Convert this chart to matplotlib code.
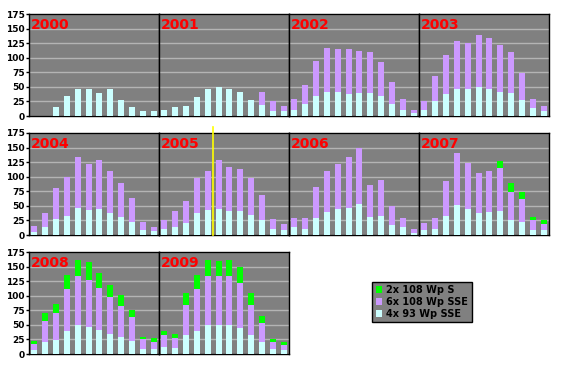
#!/usr/bin/env python3
"""Monthly PV yield per year, small multiples with stacked bars."""

import matplotlib
matplotlib.use("Agg")
import matplotlib.pyplot as plt
import numpy as np

years = ["2000", "2001", "2002", "2003", "2004",
         "2005", "2006", "2007", "2008", "2009"]

series_labels = ["4x 93 Wp SSE", "6x 108 Wp SSE", "2x 108 Wp S"]

# 4x 93 Wp SSE (bottom segment), one row per year, Jan..Dec
cyan = [
    [0, 0, 15, 35, 47, 47, 40, 47, 27, 16, 8, 8],
    [10, 15, 18, 33, 47, 50, 47, 42, 28, 19, 9, 9],
    [11, 20, 34, 42, 41, 37, 39, 39, 34, 20, 11, 5],
    [10, 25, 37, 46, 46, 49, 47, 42, 39, 27, 13, 8],
    [6, 14, 28, 33, 47, 43, 45, 38, 31, 23, 9, 7],
    [11, 14, 21, 38, 43, 45, 42, 42, 35, 25, 11, 9],
    [13, 11, 30, 40, 45, 47, 54, 31, 33, 18, 13, 4],
    [9, 11, 33, 52, 45, 38, 40, 42, 26, 23, 9, 9],
    [7, 21, 24, 40, 49, 47, 42, 35, 30, 23, 9, 9],
    [12, 11, 32, 40, 49, 49, 49, 45, 32, 20, 9, 7],
]

# 6x 108 Wp SSE (middle segment)
purple = [
    [0, 0, 0, 0, 0, 0, 0, 0, 0, 0, 0, 0],
    [0, 0, 0, 0, 0, 0, 0, 0, 0, 23, 17, 9],
    [18, 34, 61, 75, 74, 78, 73, 70, 59, 38, 18, 6],
    [15, 44, 68, 83, 80, 90, 86, 79, 70, 47, 17, 10],
    [10, 24, 53, 67, 87, 79, 84, 72, 59, 41, 14, 7],
    [14, 28, 38, 60, 67, 83, 75, 72, 62, 44, 17, 10],
    [17, 19, 53, 70, 77, 86, 96, 55, 62, 31, 17, 7],
    [12, 19, 59, 89, 79, 69, 70, 73, 47, 38, 16, 10],
    [10, 36, 47, 72, 84, 80, 72, 63, 53, 40, 16, 12],
    [20, 17, 52, 72, 84, 84, 84, 77, 52, 34, 12, 8],
]

# 2x 108 Wp S (top segment)
green = [
    [0] * 12,
    [0] * 12,
    [0] * 12,
    [0] * 12,
    [0] * 12,
    [0] * 12,
    [0] * 12,
    [0, 0, 0, 0, 0, 0, 0, 12, 17, 13, 6, 6],
    [5, 14, 15, 24, 29, 30, 25, 21, 19, 13, 4, 7],
    [8, 7, 20, 24, 29, 27, 29, 28, 20, 11, 5, 6],
]

y_ticks = [0, 25, 50, 75, 100, 125, 150, 175]

COLORS = ["#ccffff", "#cc99ff", "#00ff00"]
BG = "#808080"
GRID = "#b4b4b4"

W, H = 561, 371
PANEL_W = 130
PANEL_H = 102
LEFT = 29
ROW_TOPS = [14, 133, 252]


def add_panel(fig, row, col):
    x0 = LEFT + col * PANEL_W
    y0 = ROW_TOPS[row]
    rect = [x0 / W, 1 - (y0 + PANEL_H) / H, PANEL_W / W, PANEL_H / H]
    return fig.add_axes(rect)


def draw_year(ax, idx, show_labels):
    months = np.arange(12)
    c = np.asarray(cyan[idx], dtype=float)
    p = np.asarray(purple[idx], dtype=float)
    g = np.asarray(green[idx], dtype=float)
    bars = []
    bars.append(ax.bar(months, c, width=0.55, color=COLORS[0], zorder=3))
    bars.append(ax.bar(months, p, width=0.55, bottom=c, color=COLORS[1], zorder=3))
    bars.append(ax.bar(months, g, width=0.55, bottom=c + p, color=COLORS[2], zorder=3))

    ax.set_facecolor(BG)
    ax.set_xlim(-0.5, 11.5)
    ax.set_ylim(0, 175)
    ax.set_yticks(y_ticks)
    ax.set_xticks([])
    ax.yaxis.grid(True, color=GRID, linewidth=1.0, zorder=0)
    ax.set_axisbelow(True)
    ax.tick_params(axis="y", length=2, width=1, pad=1, labelsize=6.5)
    if show_labels:
        for lab in ax.get_yticklabels():
            lab.set_fontweight("bold")
    else:
        ax.set_yticklabels([])
        ax.tick_params(axis="y", length=0)
    for sp in ax.spines.values():
        sp.set_color("black")
        sp.set_linewidth(1.0)
    ax.text(0.015, 0.96, years[idx], transform=ax.transAxes, color="#ff0000",
            fontsize=10, fontweight="bold", va="top", ha="left", zorder=5)
    return bars


def main():
    fig = plt.figure(figsize=(W / 100, H / 100), dpi=100)
    fig.patch.set_facecolor("white")

    handles = None
    for idx in range(len(years)):
        row, col = divmod(idx, 4)
        ax = add_panel(fig, row, col)
        handles = draw_year(ax, idx, col == 0)
        if years[idx] == "2005":
            ax.axvline(4.5, ymin=0, ymax=1.06, color="#ffff00", linewidth=1.2,
                       zorder=6, clip_on=False)

    leg = fig.legend(
        [handles[2], handles[1], handles[0]],
        [series_labels[2], series_labels[1], series_labels[0]],
        loc="center", bbox_to_anchor=(0.752, 0.186),
        frameon=True, fancybox=False, facecolor=BG, edgecolor="black",
        framealpha=1.0, prop={"size": 7, "weight": "bold"},
        handlelength=0.7, handleheight=0.7, handletextpad=0.4,
        labelspacing=0.2, borderpad=0.35, borderaxespad=0,
    )
    leg.get_frame().set_linewidth(1.0)

    fig.savefig("out.png", dpi=100, facecolor="white")
    plt.close(fig)


if __name__ == "__main__":
    main()
